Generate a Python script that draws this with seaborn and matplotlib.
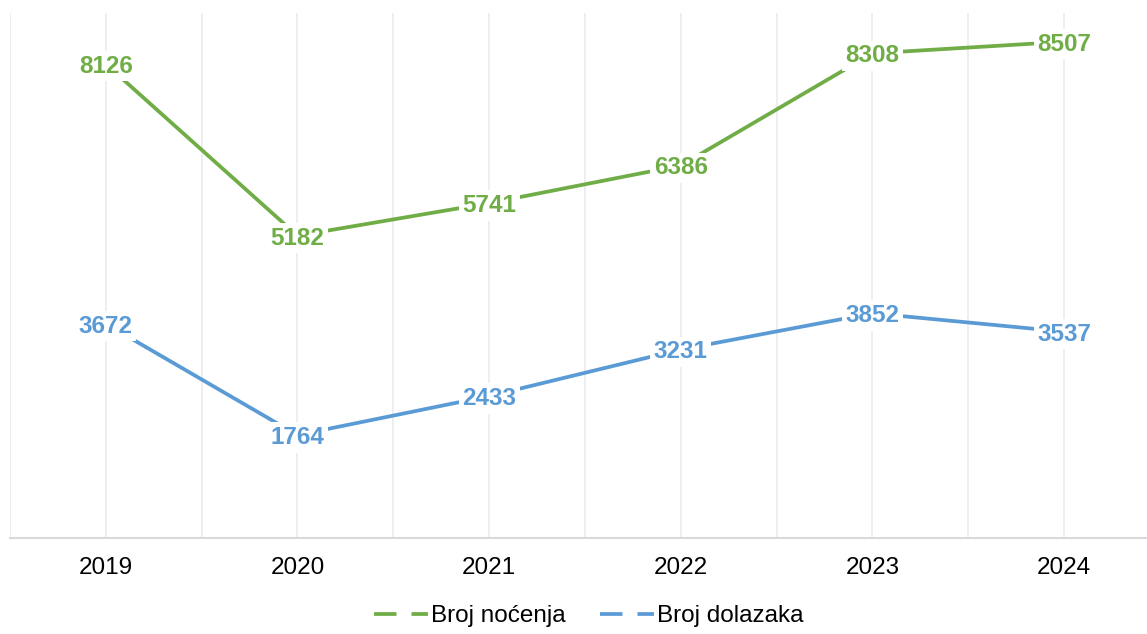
import matplotlib.pyplot as plt
import pandas as pd
import seaborn as sns
from matplotlib.lines import Line2D

years = ["2019", "2020", "2021", "2022", "2023", "2024"]
nocenja = [8126, 5182, 5741, 6386, 8308, 8507]
dolazaka = [3672, 1764, 2433, 3231, 3852, 3537]
series_names = ["Broj noćenja", "Broj dolazaka"]
colors = ["#70ad47", "#5b9bd5"]

df = pd.DataFrame({
    "pos": list(range(len(years))) * 2,
    "value": nocenja + dolazaka,
    "serija": [series_names[0]] * len(years) + [series_names[1]] * len(years),
})

sns.set_theme(style="white")
plt.rcParams["font.family"] = ["Liberation Sans", "DejaVu Sans"]
plt.rcParams["text.color"] = "black"

fig = plt.figure(figsize=(11.47, 6.34), dpi=100)
# axes runs a bit past the right edge, like the original
ax = fig.add_axes([10 / 1147, (634 - 538) / 634, 1150 / 1147, 525 / 634])

sns.lineplot(data=df, x="pos", y="value", hue="serija", palette=colors,
             linewidth=2.7, legend=False, ax=ax, zorder=3)

# value labels sit on the points, white box hides the line under them
for name, vals, col in zip(series_names, [nocenja, dolazaka], colors):
    for i, v in enumerate(vals):
        ax.text(i, v - 40, str(v), ha="center", va="center", fontsize=17.5,
                fontweight="bold", color=col, zorder=4,
                bbox=dict(boxstyle="square,pad=0.15", fc="white", ec="none"))

ax.set_xlim(-0.5, len(years) - 0.5)
ax.set_ylim(0, 9000)
ax.set_xticks(range(len(years)))
ax.set_xticklabels(years)
ax.set_xticks([i - 0.5 for i in range(len(years) + 1)], minor=True)
ax.set_yticks([])
ax.grid(axis="x", which="both", color="#ebebeb", linewidth=1.2)
ax.set_xlabel("")
ax.set_ylabel("")
ax.tick_params(axis="x", which="both", length=0, pad=14, labelsize=17.5,
               labelcolor="black")

for s in ["top", "right", "left"]:
    ax.spines[s].set_visible(False)
ax.spines["bottom"].set_color("#d9d9d9")
ax.spines["bottom"].set_linewidth(1.5)

handles = [Line2D([0], [0], color=c, lw=2.7, dashes=(6, 4)) for c in colors]
fig.legend(handles, series_names, loc="center",
           bbox_to_anchor=(589 / 1147, 1 - 616 / 634), ncol=2, frameon=False,
           fontsize=17.5, handlelength=2.2, handletextpad=0.15, columnspacing=1.4,
           labelcolor="black")

fig.savefig("out.png", dpi=100)
